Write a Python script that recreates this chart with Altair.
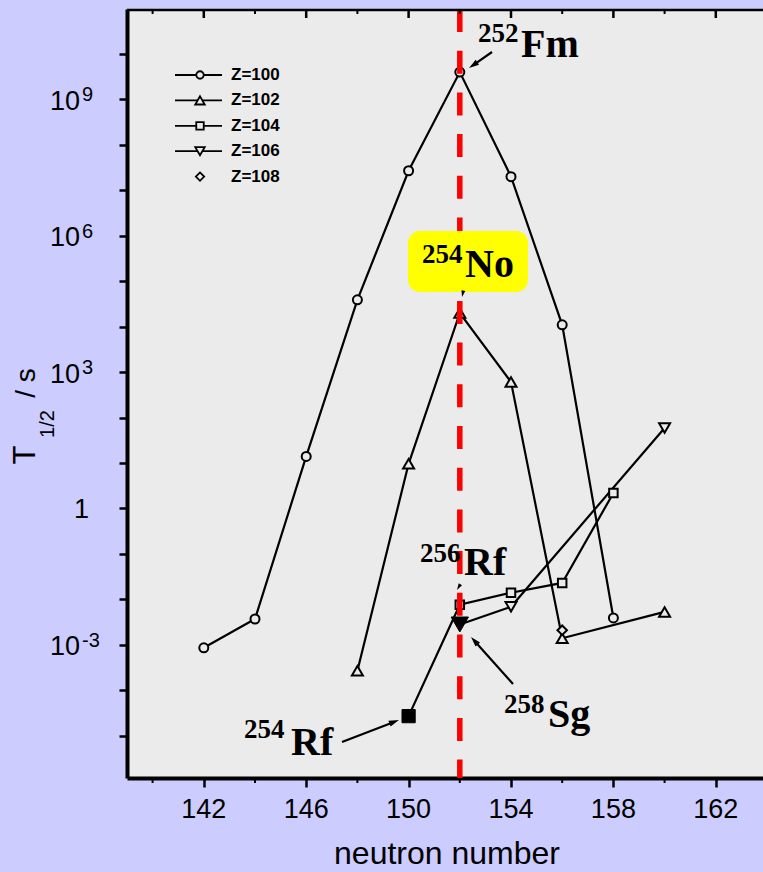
import math
import altair as alt
import pandas as pd

# Spontaneous-fission half-lives (seconds) versus neutron number, one series per element
N_Z100 = [142, 144, 146, 148, 150, 152, 154, 156, 158]
T_Z100 = [8.6e-4, 3.7e-3, 14.0, 3.9e4, 2.7e7, 4.0e9, 2.0e7, 1.1e4, 3.9e-3]
N_Z102 = [148, 150, 152, 154, 156, 160]
T_Z102 = [2.7e-4, 9.6, 2.0e4, 6.1e2, 1.4e-3, 5.3e-3]
N_Z104 = [150, 152, 154, 156, 158]
T_Z104 = [2.7e-5, 7.6e-3, 1.4e-2, 2.3e-2, 2.2]
N_Z106 = [152, 154, 160]
T_Z106 = [2.8e-3, 6.9e-3, 59.0]
N_Z108 = [156]
T_Z108 = [2.1e-3]

SERIES = [(100, N_Z100, T_Z100), (102, N_Z102, T_Z102), (104, N_Z104, T_Z104),
          (106, N_Z106, T_Z106), (108, N_Z108, T_Z108)]
FILLED = [(104, 150), (106, 152)]          # 254Rf and 258Sg drawn solid
Z_LIST = [100, 102, 104, 106, 108]
Z_LABELS = ["Z=100", "Z=102", "Z=104", "Z=106", "Z=108"]
SHAPES = ["circle", "triangle-up", "square", "triangle-down", "diamond"]
HOLLOW_SIZE = [81, 121, 72, 121, 90]
SOLID_SIZE = [100, 120, 175, 300, 100]
LEGEND_SIZE = [56, 90, 56, 90, 70]

X_TICKS = [142, 146, 150, 154, 158, 162]
X_MINOR = [140, 144, 148, 152, 156, 160]
Y_TICKS = [10.0 ** k for k in range(-5, 11)]
Y_LABEL_VALUES = [1e9, 1e6, 1e3, 1e-3]
Y_LABEL_EXP = ["9", "6", "3", "-3"]
GUIDE_N = [152]

rows = []
for z, ns, ts in SERIES:
    for n, t in zip(ns, ts):
        rows.append({"Z": z, "N": n, "T": t, "filled": (z, n) in FILLED})
df = pd.DataFrame(rows)

# frame geometry (page pixels)
LEFT, TOP, W, H = 127, 9, 636, 769
BG = "#ebebeb"
PAGE = "#ccccff"
SANS = "Liberation Sans"
SERIF = "Liberation Serif"


def px(x):
    return x - LEFT


def py(y):
    return y - TOP


XS = alt.Scale(domain=[139, 139 + W / 25.6], nice=False, zero=False)
YS = alt.Scale(type="log", domain=[10 ** -5.93, 10 ** 10.99], nice=False)
XAX = alt.Axis(values=X_TICKS, labels=False, grid=False, title=None, tickSize=9,
               tickWidth=2.5, tickColor="black", domainColor="black", domainWidth=4)
YAX = alt.Axis(values=Y_TICKS, labels=False, grid=False, title=None, tickSize=8,
               tickWidth=2.5, tickColor="black", domainColor="black", domainWidth=4)


def xq(f):
    return alt.X(f, type="quantitative", scale=XS, axis=XAX)


def yq(f):
    return alt.Y(f, type="quantitative", scale=YS, axis=YAX)


one = pd.DataFrame({"k": [0]})
layers = []

# isotope chains
layers.append(alt.Chart(df[df.Z != 108]).mark_line(color="black", strokeWidth=2.2).encode(
    x=xq("N"), y=yq("T"), detail="Z:N", order="N:Q"))

# symbols, one layer per element: open for most, solid for the highlighted isotopes
for z, shp, s_open, s_solid in zip(Z_LIST, SHAPES, HOLLOW_SIZE, SOLID_SIZE):
    sub_open = df[(df.Z == z) & (~df.filled)]
    sub_solid = df[(df.Z == z) & (df.filled)]
    if len(sub_open):
        layers.append(alt.Chart(sub_open).mark_point(
            shape=shp, size=s_open, filled=True, fill=BG, stroke="black",
            strokeWidth=2, opacity=1).encode(x=xq("N"), y=yq("T")))
    if len(sub_solid):
        layers.append(alt.Chart(sub_solid).mark_point(
            shape=shp, size=s_solid, filled=True, fill="black", stroke="black",
            strokeWidth=1, opacity=1).encode(x=xq("N"), y=yq("T")))

# N = 152 guide
layers.append(alt.Chart(pd.DataFrame({"N": GUIDE_N})).mark_rule(
    color="#ff0000", strokeWidth=5.5, strokeDash=[23, 18.7]).encode(
    x=xq("N"), y=alt.value(0), y2=alt.value(H)))

# top frame with inward ticks, bottom minor ticks
layers.append(alt.Chart(one).mark_rule(color="black", strokeWidth=2.5).encode(
    x=alt.value(0), x2=alt.value(W), y=alt.value(1)))
layers.append(alt.Chart(pd.DataFrame({"v": X_TICKS})).mark_rule(color="black", strokeWidth=2.5).encode(
    x=xq("v"), y=alt.value(0), y2=alt.value(9)))
layers.append(alt.Chart(pd.DataFrame({"v": X_MINOR})).mark_rule(color="black", strokeWidth=2).encode(
    x=xq("v"), y=alt.value(0), y2=alt.value(5)))
layers.append(alt.Chart(pd.DataFrame({"v": X_MINOR})).mark_rule(color="black", strokeWidth=2).encode(
    x=xq("v"), y=alt.value(H), y2=alt.value(H + 5)))

# tick labels
layers.append(alt.Chart(pd.DataFrame({"v": X_TICKS})).mark_text(
    font=SANS, fontSize=27, align="center", baseline="alphabetic", color="black").encode(
    x=xq("v"), y=alt.value(py(818)), text=alt.Text("v:Q", format="d")))
ylab = pd.DataFrame({"v": Y_LABEL_VALUES, "base": ["10"] * len(Y_LABEL_VALUES), "exp": Y_LABEL_EXP})
layers.append(alt.Chart(ylab).mark_text(
    font=SANS, fontSize=27, align="right", baseline="alphabetic", dy=10.5, color="black").encode(
    x=alt.value(px(80)), y=yq("v"), text="base:N"))
layers.append(alt.Chart(ylab).mark_text(
    font=SANS, fontSize=20, align="left", baseline="alphabetic", dy=2, color="black").encode(
    x=alt.value(px(82)), y=yq("v"), text="exp:N"))
layers.append(alt.Chart(pd.DataFrame({"v": [1.0], "base": ["1"]})).mark_text(
    font=SANS, fontSize=27, align="right", baseline="alphabetic", dy=10, color="black").encode(
    x=alt.value(px(89)), y=yq("v"), text="base:N"))


def text(s, x, y, size, font=SANS, weight="normal", align="left", angle=0):
    kw = dict(font=font, fontSize=size, fontWeight=weight, align=align,
              baseline="alphabetic", color="black")
    if angle:
        kw["angle"] = angle
    return alt.Chart(pd.DataFrame({"t": [s]})).mark_text(**kw).encode(
        x=alt.value(px(x)), y=alt.value(py(y)), text="t:N")


# axis titles
layers.append(text("neutron number", 447, 864, 32, align="center"))
layers.append(text("T", 35, 455, 31, align="center", angle=270))
layers.append(text("1/2", 54, 424, 20, align="center", angle=270))
layers.append(text("/ s", 35, 383, 28, align="center", angle=270))

# highlight box behind the 254No label
layers.append(alt.Chart(one).mark_rect(color="#ffff00", cornerRadius=12).encode(
    x=alt.value(px(408)), x2=alt.value(px(528)), y=alt.value(py(231)), y2=alt.value(py(292))))

# nuclide labels: mass number raised, symbol large
for mass, sym, mx, my, sx, sy in [("252", "Fm", 478, 42, 521, 57),
                                   ("254", "No", 422, 263, 465, 277),
                                   ("256", "Rf", 420, 562, 464, 575),
                                   ("258", "Sg", 504, 713, 548, 727),
                                   ("254", "Rf", 244, 738, 291, 755)]:
    layers.append(text(mass, mx, my, 27, font=SERIF, weight="bold"))
    layers.append(text(sym, sx, sy, 40, font=SERIF, weight="bold"))

HEAD = "M0,-1L0.5,0.7L-0.5,0.7Z"


def arrow(x0, y0, x1, y1, size=144, shaft=True):
    dx, dy = x1 - x0, y1 - y0
    d = math.hypot(dx, dy)
    ux, uy = dx / d, dy / d
    r = math.sqrt(size) / 2
    cx, cy = x1 - ux * r, y1 - uy * r
    ang = math.degrees(math.atan2(dx, -dy)) % 360
    out = []
    if shaft:
        out.append(alt.Chart(one).mark_rule(color="black", strokeWidth=2.2).encode(
            x=alt.value(px(x0)), y=alt.value(py(y0)), x2=alt.value(px(cx)), y2=alt.value(py(cy))))
    out.append(alt.Chart(one).mark_point(shape=HEAD, filled=True, color="black", opacity=1,
                                         size=size, angle=ang).encode(
        x=alt.value(px(cx)), y=alt.value(py(cy))))
    return out


layers += arrow(492, 52, 469, 68)
layers += arrow(513, 684, 471, 637)
layers += arrow(342, 742, 399, 720)
layers += arrow(464, 288, 462, 297, size=60, shaft=False)
layers += arrow(463, 580, 457, 590, size=60, shaft=False)

# legend
for i, (lab, shp, sz) in enumerate(zip(Z_LABELS, SHAPES, LEGEND_SIZE)):
    yy = py(75 + 25.4 * i)
    if i < 4:
        layers.append(alt.Chart(one).mark_rule(color="black", strokeWidth=1.8).encode(
            x=alt.value(px(175)), x2=alt.value(px(222)), y=alt.value(yy)))
    layers.append(alt.Chart(one).mark_point(
        shape=shp, filled=True, fill=BG, stroke="black", strokeWidth=1.8, opacity=1,
        size=sz).encode(x=alt.value(px(200)), y=alt.value(yy)))
    layers.append(alt.Chart(pd.DataFrame({"t": [lab]})).mark_text(
        font=SANS, fontSize=17, fontWeight="bold", align="left", baseline="middle",
        color="black").encode(x=alt.value(px(231)), y=alt.value(yy), text="t:N"))

chart = alt.layer(*layers).properties(
    width=W, height=H,
    padding={"left": LEFT, "top": TOP, "right": 0, "bottom": 872 - TOP - H},
    autosize=alt.AutoSizeParams(type="none"),
    background=PAGE,
).configure_view(fill=BG, stroke="transparent")

chart.save("out.html", embed_options={"renderer": "svg", "actions": False})
